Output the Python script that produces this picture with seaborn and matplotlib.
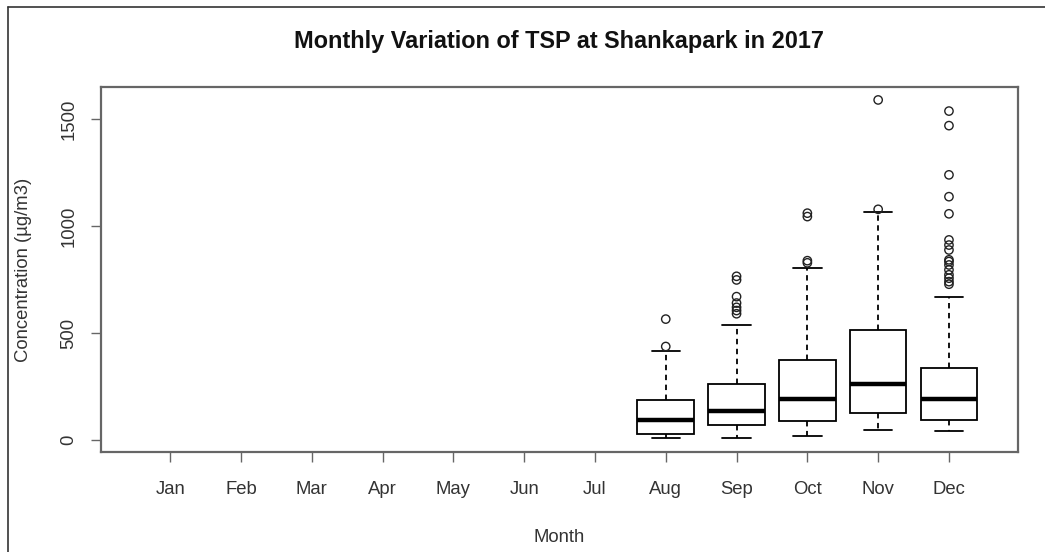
import numpy as np
import pandas as pd
import matplotlib
matplotlib.use("Agg")
import matplotlib.pyplot as plt
from matplotlib.lines import Line2D
import seaborn as sns

# ---- data ----
months = ["Jan", "Feb", "Mar", "Apr", "May", "Jun", "Jul",
          "Aug", "Sep", "Oct", "Nov", "Dec"]
data_months = ["Aug", "Sep", "Oct", "Nov", "Dec"]
whis_lo = [11, 9, 20, 48, 43]
q1 = [26, 68, 87, 126, 95]
median = [93, 137, 194, 263, 194]
q3 = [185, 263, 375, 512, 338]
whis_hi = [414, 538, 806, 1064, 667]
out_aug = [437, 565]
out_sep = [590, 605, 620, 640, 670, 748, 765]
out_oct = [828, 838, 1044, 1060]
out_nov = [1078, 1589]
out_dec = [728, 740, 756, 772, 795, 818, 834, 842, 888, 911, 935,
           1057, 1137, 1239, 1469, 1537]
yticks = [0, 500, 1000, 1500]

# ---- tables ----
rows = []
for m, a, b, c, d, e in zip(data_months, whis_lo, q1, median, q3, whis_hi):
    for v in (a, b, c, d, e):
        rows.append((m, v))
box_df = pd.DataFrame(rows, columns=["Month", "Conc"])
outs = {"Aug": out_aug, "Sep": out_sep, "Oct": out_oct, "Nov": out_nov, "Dec": out_dec}
out_df = pd.DataFrame([(m, v) for m, vals in outs.items() for v in vals],
                      columns=["Month", "Conc"])

sns.set_style("white")
plt.rcParams["font.family"] = ["Liberation Sans", "DejaVu Sans"]

FS = 13.3
TXT = "#333333"

fig = plt.figure(figsize=(10.45, 5.52), dpi=100)
ax = fig.add_axes([0.0964, 0.1806, 0.9745 - 0.0964, 0.8424 - 0.1806])

sns.boxplot(data=box_df, x="Month", y="Conc", order=months, whis=(0, 100),
            showfliers=False, width=0.8, ax=ax,
            boxprops=dict(facecolor="white", edgecolor="black", linewidth=1.3),
            whiskerprops=dict(color="black", linewidth=1.3, linestyle=(0, (3, 2.5))),
            capprops=dict(color="black", linewidth=1.3),
            medianprops=dict(color="black", linewidth=3.2))

sns.stripplot(data=out_df, x="Month", y="Conc", order=months, jitter=False,
              marker="o", size=6, color="black", ax=ax, zorder=5)
for coll in ax.collections:
    coll.set_facecolor("none")
    coll.set_edgecolor("#222222")
    coll.set_linewidth(1.0)

ax.set_xlim(-0.98, 11.98)
ax.set_ylim(-57.4, 1649.5)
ax.set_yticks(yticks)
ax.set_yticklabels([str(t) for t in yticks], rotation=90, va="center",
                   fontsize=FS, color=TXT)
ax.set_xticks(range(len(months)))
ax.set_xticklabels(months, fontsize=FS, color=TXT)
ax.tick_params(axis="both", direction="out", length=7, width=1.0,
               color="#666666", left=True, bottom=True)
ax.tick_params(axis="x", pad=14)
ax.tick_params(axis="y", pad=10)
for s in ax.spines.values():
    s.set_visible(True)
    s.set_color("#666666")
    s.set_linewidth(1.6)

ax.set_xlabel("Month", fontsize=FS, color=TXT, labelpad=22)
ax.set_ylabel("Concentration (µg/m3)", fontsize=FS, color=TXT, labelpad=20)
fig.text(0.535, 0.924, "Monthly Variation of TSP at Shankapark in 2017",
         ha="center", va="center", fontsize=16.9, fontweight="bold", color="#111111")

# outer frame (left and top edges visible in the reference)
fig.add_artist(Line2D([8 / 1045, 8 / 1045], [0, 1 - 7 / 552],
                      transform=fig.transFigure, color="#333333", linewidth=1.2))
fig.add_artist(Line2D([8 / 1045, 1], [1 - 7 / 552, 1 - 7 / 552],
                      transform=fig.transFigure, color="#333333", linewidth=1.2))

fig.savefig("out.png", dpi=100, facecolor="white")
